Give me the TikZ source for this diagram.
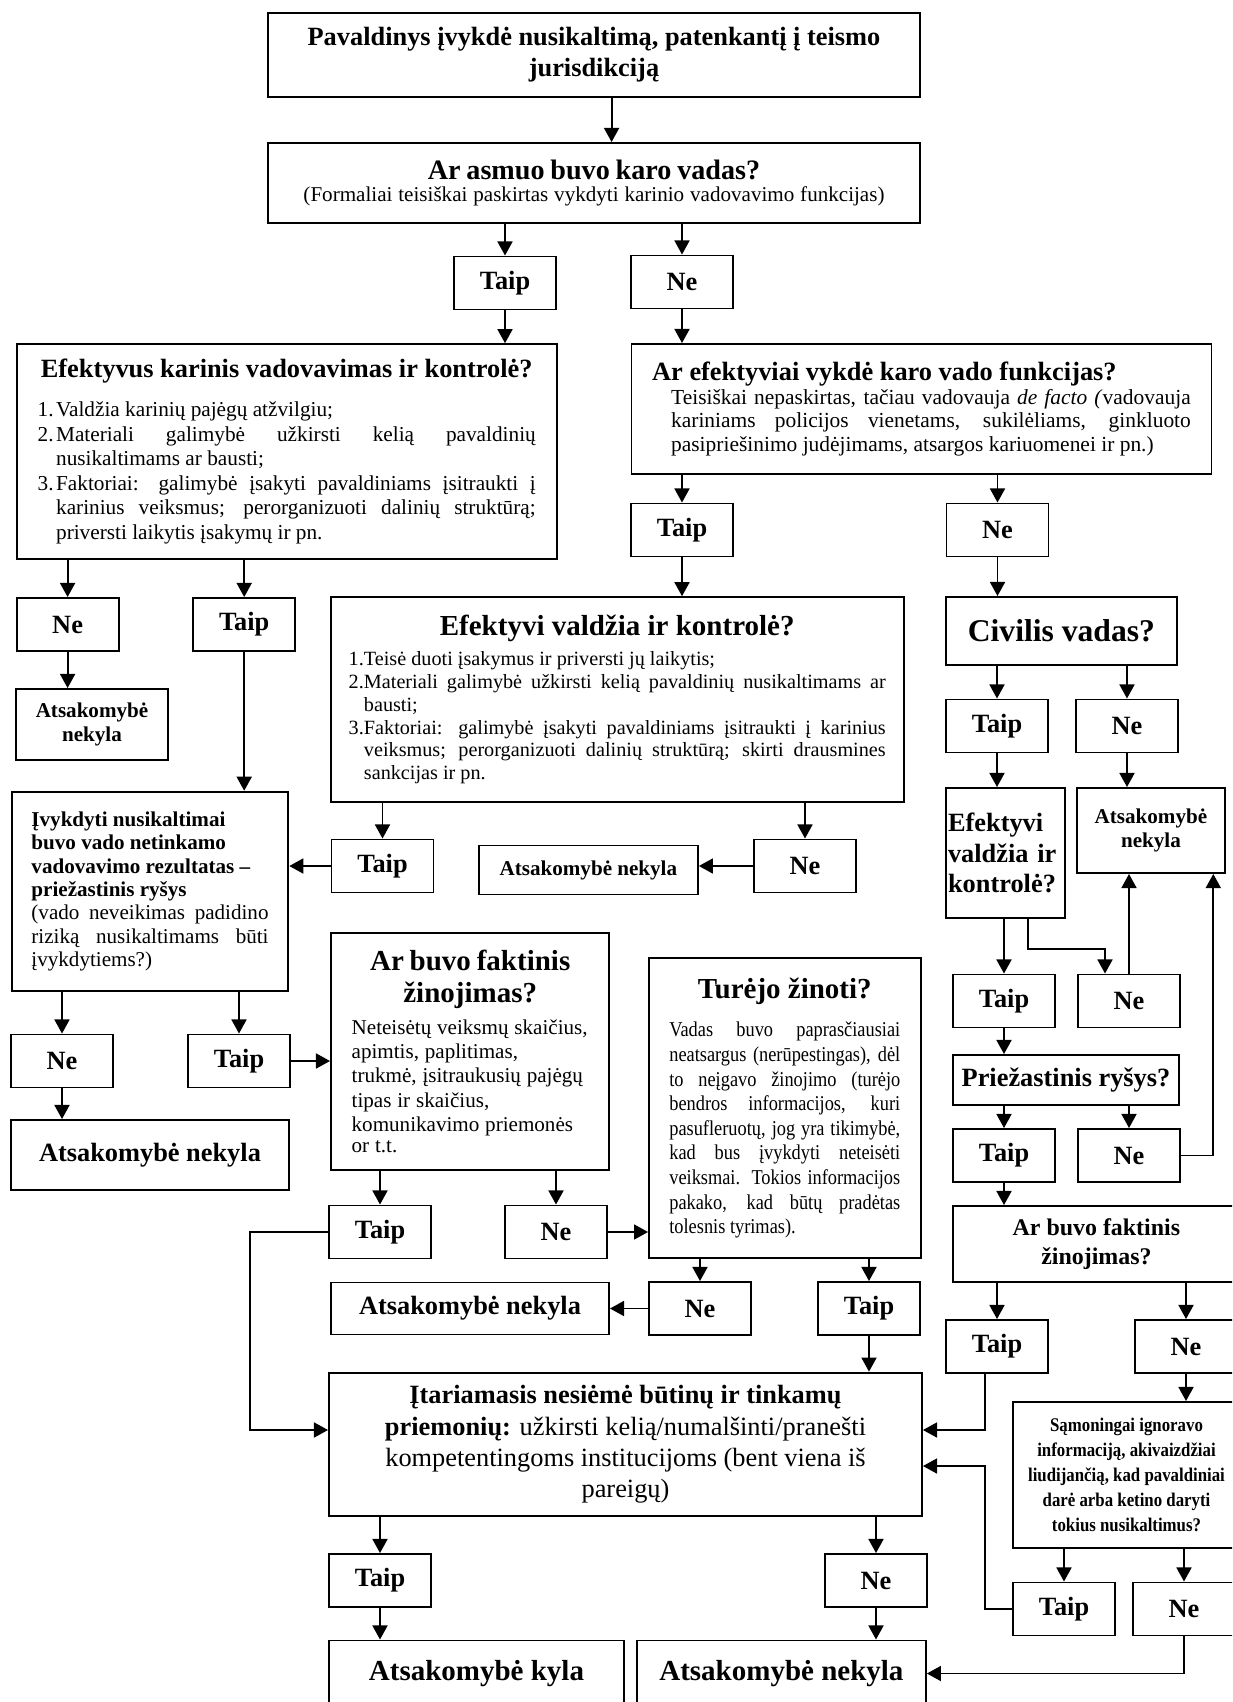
\documentclass[tikz,border=0pt]{standalone}
\usepackage{fontspec}
\setmainfont{Liberation Serif}
\newfontfamily\narrowfont{Liberation Serif}[FakeStretch=0.87]
\usetikzlibrary{arrows.meta}
\newcommand{\pxu}{0.569pt}
\newcommand{\fsz}[2]{\fontsize{#1}{#2}\selectfont}
\newcommand{\numitem}[2]{\par\hangindent=#1\hangafter=1\noindent\makebox[#1][l]{#2}}
\setlength{\parindent}{0pt}
\hyphenpenalty=10000
\exhyphenpenalty=10000
\tolerance=9999
\emergencystretch=10pt
\begin{document}
\begin{tikzpicture}[
    x=0.569pt, y=-0.569pt,
    line width=1.1pt,
    box/.style={rectangle, draw, inner sep=0pt},
    sz/.style 2 args={minimum width=#1*\pxu, minimum height=#2*\pxu},
    yn/.style={box, sz={102}{53}, font=\fsz{15}{18}\bfseries},
    arr/.style={-{Triangle[length=8pt,width=8.5pt]}},
]

    \useasboundingbox (0,0) rectangle (1232,1702);
    \clip (0,0) rectangle (1232,1702);

    \node[box, sz={652}{84}, align=center, font=\fsz{15}{17.7}\bfseries] (start) at (594,55)
        {Pavaldinys įvykdė nusikaltimą, patenkantį į teismo\\jurisdikciją};
    \node[box, sz={652}{80}, text width=360pt, align=center] (asmuo) at (594,183)
        {{\fsz{16}{18}\bfseries Ar asmuo buvo karo vadas?\par}\fsz{12}{12.7}(Formaliai teisiškai paskirtas vykdyti karinio vadovavimo funkcijas)};
    \node[yn] (t1) at (505,283) {Taip};
    \node[yn] (n1) at (682,282) {Ne};

    \node[box, sz={540}{215}, text width=283.4pt, align=justify] (karinis) at (286.7,451.7)
        {{\centering\fsz{15}{18}\bfseries\makebox[\linewidth]{Efektyvus karinis vadovavimas ir kontrolė?}\par}
        \vspace{8pt}\fsz{12.1}{14}
        \numitem{10.5pt}{1.}Valdžia karinių pajėgų atžvilgiu;
        \numitem{10.5pt}{2.}Materiali galimybė užkirsti kelią pavaldinių \linebreak nusikaltimams ar bausti;
        \numitem{10.5pt}{3.}Faktoriai: galimybė įsakyti pavaldiniams įsitraukti į \linebreak karinius veiksmus; perorganizuoti dalinių struktūrą; \linebreak priversti laikytis įsakymų ir pn.\par};
    \node[box, sz={580}{130}, text width=306.5pt, align=justify] (defacto) at (921.5,409)
        {{\fsz{15}{17}\bfseries Ar efektyviai vykdė karo vado funkcijas?\par}
        {\leftskip=10.8pt\fsz{12.2}{13.4}Teisiškai nepaskirtas, tačiau vadovauja \textit{de facto (}vadovauja \linebreak kariniams policijos vienetams, sukilėliams, ginkluoto \linebreak pasipriešinimo judėjimams, atsargos kariuomenei ir pn.)\par}};

    \node[yn] (n2) at (67.6,624.5) {Ne};
    \node[yn] (t2) at (244.2,624.5) {Taip};
    \node[yn] (t3) at (682,530) {Taip};
    \node[yn] (n3) at (997.5,530) {Ne};

    \node[box, sz={573}{205}, text width=305.6pt, align=justify] (valdzia) at (617.2,699.7)
        {{\centering\fsz{16.5}{19}\bfseries Efektyvi valdžia ir kontrolė?\par}
        \vspace{4pt}\fsz{11.5}{13}
        \numitem{8.7pt}{1.}Teisė duoti įsakymus ir priversti jų laikytis;
        \numitem{8.7pt}{2.}Materiali galimybė užkirsti kelią pavaldinių nusikaltimams ar \linebreak bausti;
        \numitem{8.7pt}{3.}Faktoriai: galimybė įsakyti pavaldiniams įsitraukti į karinius \linebreak veiksmus; perorganizuoti dalinių struktūrą; skirti drausmines \linebreak sankcijas ir pn.\par};
    \node[box, sz={231}{68}, font=\fsz{18}{21}\bfseries] (civilis) at (1061.4,631) {Civilis vadas?};

    \node[box, sz={152}{71}, align=center, font=\fsz{12}{14}\bfseries] (a1) at (92,724.5) {Atsakomybė\\nekyla};
    \node[box, sz={276.6}{199.3}, text width=134.9pt, align=justify, font=\fsz{12}{13.3}] (ivykdyti) at (150,891.4)
        {{\raggedright\bfseries Įvykdyti nusikaltimai\\buvo vado netinkamo\\vadovavimo rezultatas –\\priežastinis ryšys\par}
        (vado neveikimas padidino \linebreak riziką nusikaltimams būti \linebreak įvykdytiems?)\par};
    \node[yn] (t4) at (382.5,866) {Taip};
    \node[yn] (n4) at (805,866) {Ne};
    \node[box, sz={219}{49}, font=\fsz{12}{14}\bfseries] (a2) at (588.4,870) {Atsakomybė nekyla};

    \node[yn] (t5) at (997,726) {Taip};
    \node[yn] (n5) at (1127,726) {Ne};
    \node[box, sz={119}{130}, text width=65.4pt, align=left, font=\fsz{15}{17.5}\bfseries] (valdzia2) at (1005.5,853)
        {Efektyvi\\valdžia ir\\kontrolė?};
    \node[box, sz={148}{85}, align=center, font=\fsz{12}{14}\bfseries] (a3) at (1150.9,830.5) {Atsakomybė\\nekyla};
    \node[yn] (t6) at (1004,1001) {Taip};
    \node[yn] (n6) at (1129,1001) {Ne};
    \node[box, sz={226.6}{50}, font=\fsz{15}{18}\bfseries] (priez) at (1066,1080) {Priežastinis ryšys?};
    \node[yn] (t7) at (1004,1155.5) {Taip};
    \node[yn] (n7) at (1129,1155.5) {Ne};
    \node[box, sz={287}{76}, align=center, font=\fsz{13.6}{16.3}\bfseries] (zinojimas2) at (1096.4,1244)
        {Ar buvo faktinis\\žinojimas?};
    \node[yn] (t8) at (997,1346.5) {Taip};
    \node[yn] (n8) at (1186,1346.5) {Ne};
    \node[box, sz={227}{146}, align=center, font=\narrowfont\fsz{11}{14.2}\bfseries] (samon) at (1126.5,1475)
        {Sąmoningai ignoravo\\informaciją, akivaizdžiai\\liudijančią, kad pavaldiniai\\darė arba ketino daryti\\tokius nusikaltimus?};
    \node[yn] (t9) at (1064,1609) {Taip};
    \node[yn] (n9) at (1184,1609) {Ne};

    \node[yn] (n10) at (62,1061) {Ne};
    \node[yn] (t10) at (239,1061) {Taip};
    \node[box, sz={278}{70.4}, font=\fsz{15}{18}\bfseries] (a4) at (150,1155.2) {Atsakomybė nekyla};
    \node[box, sz={278.4}{236.7}, text width=134.9pt, align=left] (zinojimas) at (470.2,1051.7)
        {{\centering\fsz{16.5}{18.2}\bfseries Ar buvo faktinis\\žinojimas?\par}
        \vspace{4pt}\fsz{12}{13.9}Neteisėtų veiksmų skaičius,\\apimtis, paplitimas,\\trukmė, įsitraukusių pajėgų\\tipas ir skaičius,\\komunikavimo priemonės\\or t.t.};
    \node[box, sz={271.5}{300}, text width=131.4pt, align=justify] (turejo) at (784.8,1108.3)
        {{\centering\fsz{16.5}{19}\bfseries Turėjo žinoti?\par}
        \vspace{7.6pt}{\narrowfont\fsz{12}{14}Vadas buvo paprasčiausiai \linebreak neatsargus (nerūpestingas), dėl \linebreak to neįgavo žinojimo (turėjo \linebreak bendros informacijos, kuri \linebreak pasufleruotų, jog yra tikimybė, \linebreak kad bus įvykdyti neteisėti \linebreak veiksmai. Tokios informacijos \linebreak pakako, kad būtų pradėtas \linebreak tolesnis tyrimas).\par}};
    \node[yn] (t11) at (380,1232) {Taip};
    \node[yn] (n11) at (556,1232) {Ne};
    \node[yn] (n12) at (700,1308.5) {Ne};
    \node[yn] (t12) at (869,1308.5) {Taip};
    \node[box, sz={278}{52}, font=\fsz{15}{18}\bfseries] (a5) at (470,1308.5) {Atsakomybė nekyla};

    \node[box, sz={593}{143.4}, align=center, font=\fsz{15}{17.7}] (itar) at (625.5,1444.3)
        {\textbf{Įtariamasis nesiėmė būtinų ir tinkamų}\\\textbf{priemonių:} užkirsti kelią/numalšinti/pranešti\\kompetentingoms institucijoms (bent viena iš\\pareigų)};
    \node[yn] (t13) at (380,1580.5) {Taip};
    \node[yn] (n13) at (876,1580.5) {Ne};
    \node[box, sz={295}{66}, font=\fsz{16.5}{19}\bfseries] (kyla) at (476.5,1673.5) {Atsakomybė kyla};
    \node[box, sz={289}{66}, font=\fsz{16.5}{19}\bfseries] (a6) at (781.4,1673.5) {Atsakomybė nekyla};

    \coordinate (k1) at (1028,949);
    \coordinate (k2) at (1105,949);
    \coordinate (k4) at (985,1430);
    \coordinate (k5) at (985,1466);
    \coordinate (k6) at (250,1430);

    \draw[arr] ([xshift=10pt]start.south) -- ([xshift=10pt]asmuo.north);
    \draw[arr] (asmuo.south -| t1) -- (t1.north);
    \draw[arr] (asmuo.south -| n1) -- (n1.north);
    \draw[arr] (t1.south) -- (t1.south |- karinis.north);
    \draw[arr] (n1.south) -- (n1.south |- defacto.north);
    \draw[arr] (karinis.south -| n2) -- (n2.north);
    \draw[arr] (karinis.south -| t2) -- (t2.north);
    \draw[arr] (defacto.south -| t3) -- (t3.north);
    \draw[arr] (defacto.south -| n3) -- (n3.north);
    \draw[arr] (t3.south) -- (t3.south |- valdzia.north);
    \draw[arr] (n3.south) -- (n3.south |- civilis.north);
    \draw[arr] (n2.south) -- (n2.south |- a1.north);
    \draw[arr] (t2.south) -- (t2.south |- ivykdyti.north);
    \draw[arr] (valdzia.south -| t4) -- (t4.north);
    \draw[arr] (valdzia.south -| n4) -- (n4.north);
    \draw[arr] (t4.west) -- (t4.west -| ivykdyti.east);
    \draw[arr] (n4.west) -- (n4.west -| a2.east);
    \draw[arr] (civilis.south -| t5) -- (t5.north);
    \draw[arr] (civilis.south -| n5) -- (n5.north);
    \draw[arr] (t5.south) -- (t5.south |- valdzia2.north);
    \draw[arr] (n5.south) -- (n5.south |- a3.north);
    \draw[arr] (valdzia2.south -| t6) -- (t6.north);
    \draw[arr] (valdzia2.south -| k1) -- (k1) -- (k2) -- (k2 |- n6.north);
    \draw[arr] (n6.north) -- (n6.north |- a3.south);
    \draw[arr] (t6.south) -- (t6.south |- priez.north);
    \draw[arr] (priez.south -| t7) -- (t7.north);
    \draw[arr] (priez.south -| n7) -- (n7.north);
    \draw[arr] (n7.east) -| ([xshift=35.5pt]a3.south);
    \draw[arr] (t7.south) -- (t7.south |- zinojimas2.north);
    \draw[arr] (zinojimas2.south -| t8) -- (t8.north);
    \draw[arr] (zinojimas2.south -| n8) -- (n8.north);
    \draw[arr] (t8.south -| k4) -- (k4) -- (k4 -| itar.east);
    \draw[arr] (n8.south) -- (n8.south |- samon.north);
    \draw[arr] (samon.south -| t9) -- (t9.north);
    \draw[arr] (samon.south -| n9) -- (n9.north);
    \draw[arr] (t9.west) -| (k5) -- (k5 -| itar.east);
    \draw[arr] (n9.south) |- (a6.east);
    \draw[arr] (ivykdyti.south -| n10) -- (n10.north);
    \draw[arr] (ivykdyti.south -| t10) -- (t10.north);
    \draw[arr] (n10.south) -- (n10.south |- a4.north);
    \draw[arr] (t10.east) -- (t10.east -| zinojimas.west);
    \draw[arr] (zinojimas.south -| t11) -- (t11.north);
    \draw[arr] (zinojimas.south -| n11) -- (n11.north);
    \draw[arr] (n11.east) -- (n11.east -| turejo.west);
    \draw[arr] (t11.west) -| (k6) -- (k6 -| itar.west);
    \draw[arr] (turejo.south -| n12) -- (n12.north);
    \draw[arr] (turejo.south -| t12) -- (t12.north);
    \draw[arr] (n12.west) -- (n12.west -| a5.east);
    \draw[arr] (t12.south) -- (t12.south |- itar.north);
    \draw[arr] (itar.south -| t13) -- (t13.north);
    \draw[arr] (itar.south -| n13) -- (n13.north);
    \draw[arr] (t13.south) -- (t13.south |- kyla.north);
    \draw[arr] (n13.south) -- (n13.south |- a6.north);

\end{tikzpicture}
\end{document}
